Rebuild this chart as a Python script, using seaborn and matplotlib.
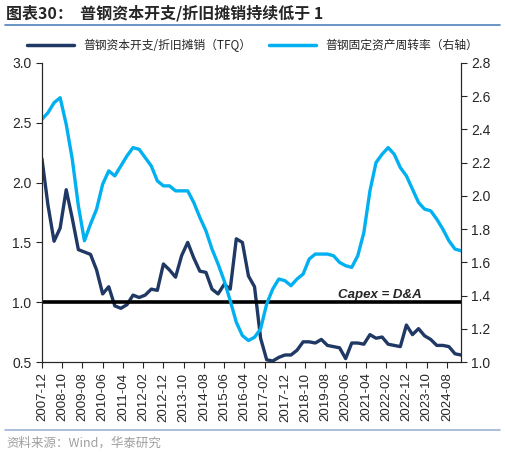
import matplotlib
matplotlib.use('Agg')
import matplotlib.pyplot as plt
from matplotlib.lines import Line2D
import seaborn as sns
import pandas as pd

# quarterly data, 2007-12 .. 2025-03
quarters = pd.date_range('2007-12-31', '2025-03-31', freq='QE')
capex_da = [2.20, 1.81, 1.51, 1.62, 1.94, 1.70, 1.44, 1.42, 1.40, 1.27,
            1.07, 1.13, 0.97, 0.95, 0.98, 1.06, 1.04, 1.06, 1.11, 1.10,
            1.32, 1.27, 1.21, 1.39, 1.50, 1.37, 1.26, 1.25, 1.11, 1.07,
            1.15, 1.11, 1.53, 1.50, 1.22, 1.13, 0.70, 0.52, 0.51, 0.54,
            0.56, 0.56, 0.60, 0.67, 0.67, 0.66, 0.69, 0.64, 0.63, 0.62,
            0.53, 0.66, 0.66, 0.65, 0.73, 0.70, 0.71, 0.65, 0.64, 0.63,
            0.81, 0.73, 0.78, 0.72, 0.69, 0.64, 0.64, 0.63, 0.57, 0.56]
turnover = [2.46, 2.50, 2.56, 2.59, 2.43, 2.22, 1.94, 1.73, 1.83, 1.92,
            2.07, 2.15, 2.12, 2.18, 2.24, 2.29, 2.28, 2.23, 2.18, 2.09,
            2.06, 2.06, 2.03, 2.03, 2.03, 1.96, 1.87, 1.79, 1.68, 1.59,
            1.49, 1.37, 1.24, 1.16, 1.13, 1.15, 1.20, 1.35, 1.44, 1.50,
            1.49, 1.46, 1.50, 1.53, 1.62, 1.65, 1.65, 1.65, 1.64, 1.60,
            1.58, 1.57, 1.64, 1.78, 2.03, 2.20, 2.25, 2.29, 2.25, 2.17,
            2.12, 2.04, 1.96, 1.92, 1.91, 1.86, 1.80, 1.73, 1.68, 1.67]
tick_labels = ['2007-12', '2008-10', '2009-08', '2010-06', '2011-04', '2012-02',
               '2012-12', '2013-10', '2014-08', '2015-06', '2016-04', '2017-02',
               '2017-12', '2018-10', '2019-08', '2020-06', '2021-04', '2022-02',
               '2022-12', '2023-10', '2024-08']

df = pd.DataFrame({'date': quarters, 'capex': capex_da, 'turn': turnover})
# month index from 2007-12
df['m'] = (df['date'].dt.year - 2007) * 12 + df['date'].dt.month - 12

sns.set_style('ticks')
plt.rcParams['font.family'] = ['Liberation Sans', 'Noto Sans CJK SC', 'DejaVu Sans']
plt.rcParams['axes.unicode_minus'] = False

navy = '#1F3864'
cyan = '#00B0F0'

fig = plt.figure(figsize=(5.05, 4.55), dpi=100)
ax = fig.add_axes([0.083, 0.204, 0.83, 0.658])
ax2 = ax.twinx()

sns.lineplot(data=df, x='m', y='capex', ax=ax, color=navy, linewidth=2.4,
             label='普钢资本开支/折旧摊销（TFQ）', legend=False)
sns.lineplot(data=df, x='m', y='turn', ax=ax2, color=cyan, linewidth=2.4,
             label='普钢固定资产周转率（右轴）', legend=False)
ax.axhline(1.0, color='black', linewidth=2.6, zorder=5)
ax.text(167, 1.015, 'Capex = D&A', fontsize=9.5, fontweight='bold', style='italic',
        ha='center', va='bottom')

ax.set_xlim(0, 207)
ax.set_ylim(0.5, 3.0)
ax2.set_ylim(1.0, 2.8)
ax.set_yticks([0.5, 1.0, 1.5, 2.0, 2.5, 3.0])
ax2.set_yticks([1.0, 1.2, 1.4, 1.6, 1.8, 2.0, 2.2, 2.4, 2.6, 2.8])
ax.set_xticks(list(range(0, 201, 10)))
ax.set_xticklabels(tick_labels, rotation=90, fontsize=9.5)
ax.tick_params(axis='y', labelsize=10, length=4, direction='out')
ax2.tick_params(axis='y', labelsize=10, length=4, direction='out')
ax.tick_params(axis='x', length=4, direction='out')
ax.set_xlabel('')
ax.set_ylabel('')
ax2.set_ylabel('')
for a in (ax, ax2):
    a.spines['top'].set_visible(False)
    for s in ('left', 'right', 'bottom'):
        a.spines[s].set_linewidth(0.8)

handles = [Line2D([], [], color=navy, linewidth=2.5), Line2D([], [], color=cyan, linewidth=2.5)]
fig.legend(handles, ['普钢资本开支/折旧摊销（TFQ）', '普钢固定资产周转率（右轴）'],
           loc='center', bbox_to_anchor=(0.5, 0.9), ncol=2, frameon=False,
           handlelength=4, columnspacing=1.5,
           prop={'family': ['Noto Sans CJK SC'], 'size': 8.5})

fig.text(0.012, 0.97, '图表30：  普钢资本开支/折旧摊销持续低于 1', fontsize=11.5,
         fontweight='bold', va='center', ha='left', family=['Noto Sans CJK SC'])
fig.add_artist(Line2D([0.01, 0.99], [0.946, 0.946], color='#4F81BD', linewidth=1.2))
fig.add_artist(Line2D([0.01, 0.99], [0.055, 0.055], color='#9DB3D6', linewidth=1.2))
fig.text(0.012, 0.027, '资料来源：Wind，华泰研究', fontsize=9, color='#A0A0A0',
         va='center', ha='left', family=['Noto Sans CJK SC'])

fig.savefig('out.png', dpi=100)
